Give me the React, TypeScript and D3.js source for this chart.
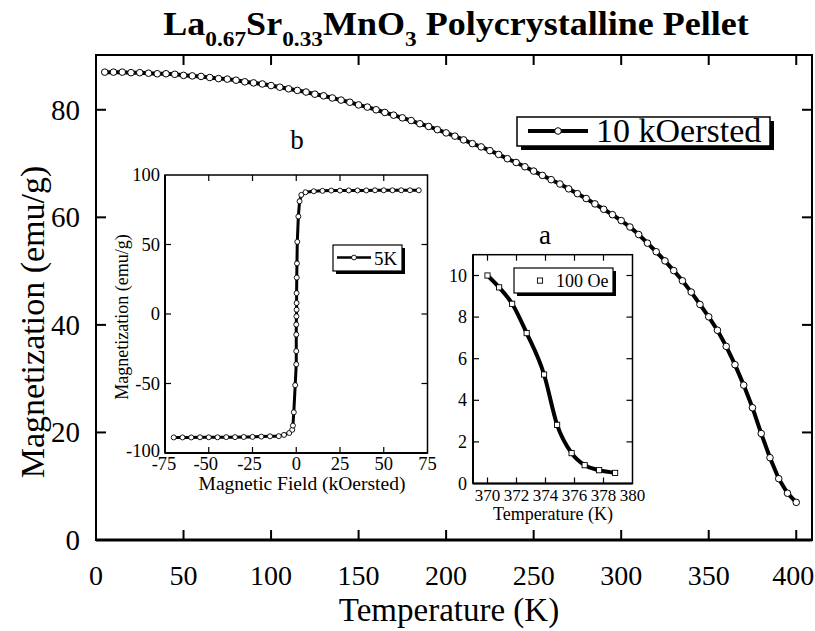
import React from 'react';
import * as d3 from 'd3';

// ---- Main curve: M(T) at 10 kOersted ----
const mainT = [5,10,15,20,25,30,35,40,45,50,55,60,65,70,75,80,85,90,95,100,105,110,115,120,125,130,135,140,145,150,155,160,165,170,175,180,185,190,195,200,205,210,215,220,225,230,235,240,245,250,255,260,265,270,275,280,285,290,295,300,305,310,315,320,325,330,335,340,345,350,355,360,365,370,375,380,385,390,395,400];
const mainM = [87.0,87.0,87.0,86.9,86.9,86.8,86.7,86.7,86.6,86.4,86.3,86.2,86.0,85.8,85.7,85.5,85.2,85.0,84.8,84.5,84.2,83.9,83.6,83.3,82.9,82.6,82.2,81.8,81.4,80.9,80.5,80.0,79.5,79.0,78.5,78.0,77.4,76.9,76.3,75.7,75.1,74.4,73.7,73.1,72.4,71.7,70.9,70.2,69.4,68.6,67.8,67.0,66.2,65.3,64.4,63.5,62.5,61.5,60.5,59.4,58.2,56.8,55.2,53.6,51.9,50.1,48.2,46.1,43.8,41.5,39.0,36.0,32.6,28.8,24.6,19.8,15.3,11.4,8.7,7.0];
const mainXTicks = [0,50,100,150,200,250,300,350,400];
const mainYTicks = [0,20,40,60,80];

// ---- Inset b: hysteresis at 5K ----
const hystH = [-70,-65,-60,-55,-50,-45,-40,-35,-30,-25,-20,-15,-10,-7,-4,-2.3,-1.9,-1.4,-0.6,0,0,0,0,0.1,0.2,0.2,0.2,0.3,0.4,0.6,1.2,1.9,2.9,5.3,10,15,20,25,30,35,40,45,50,55,60,65,70];
const hystM = [-88.8,-88.8,-88.8,-88.7,-88.7,-88.7,-88.6,-88.6,-88.5,-88.4,-88.2,-88.0,-87.9,-87.0,-85.6,-83.3,-80.3,-70.7,-51.2,-36.2,-26.7,-14.8,-7.6,-1.7,3.1,7.9,15.0,26.2,36.4,51.9,70.2,81.1,85.7,87.6,88.3,88.6,88.8,88.8,88.9,88.9,88.9,89.0,89.0,89.0,89.0,89.0,89.0];
const hystXTicks = [-75,-50,-25,0,25,50,75];
const hystYTicks = [-100,-50,0,50,100];

// ---- Inset a: M(T) at 100 Oe near Tc ----
const tcT = [370,370.8,371.7,372.7,373.9,374.8,375.8,376.7,377.7,378.8];
const tcM = [10.0,9.43,8.64,7.23,5.24,2.82,1.46,0.88,0.64,0.51];
const tcXTicks = [370,372,374,376,378,380];
const tcYTicks = [0,2,4,6,8,10];

const FONT = "'Liberation Serif', 'DejaVu Serif', serif";

export default function App() {
  const x = d3.scaleLinear().domain([0, 409]).range([96, 812]);
  const y = d3.scaleLinear().domain([0, 90]).range([540, 56]);
  const mainData = mainT.map((t, i) => [t, mainM[i]] as [number, number]);
  const mainLine = d3.line<[number, number]>().x(d => x(d[0])).y(d => y(d[1]));

  const bx = d3.scaleLinear().domain([-75, 75]).range([165, 427.5]);
  const by = d3.scaleLinear().domain([-100, 100]).range([453, 175]);
  const bData = hystH.map((h, i) => [h, hystM[i]] as [number, number]);
  const bLine = d3.line<[number, number]>().x(d => bx(d[0])).y(d => by(d[1]));

  const ax = d3.scaleLinear().domain([369, 380]).range([473, 632.5]);
  const ay = d3.scaleLinear().domain([0, 11]).range([483.5, 254.7]);
  const aData = tcT.map((t, i) => [t, tcM[i]] as [number, number]);
  const aLine = d3.line<[number, number]>().x(d => ax(d[0])).y(d => ay(d[1])).curve(d3.curveMonotoneX);

  return (
    <svg width={815} height={631} style={{ display: 'block', position: 'absolute', left: 0, top: 0, background: '#fff' }} fontFamily={FONT}>
      <rect x={0} y={0} width={815} height={631} fill="#fff" />
      {/* Title */}
      <text transform="translate(456,35) scale(1.06,1)" textAnchor="middle" fontSize={34} fontWeight="bold">
        <tspan>La</tspan>
        <tspan fontSize={22} dy={11}>0.67</tspan>
        <tspan dy={-11}>Sr</tspan>
        <tspan fontSize={22} dy={11}>0.33</tspan>
        <tspan dy={-11}>MnO</tspan>
        <tspan fontSize={22} dy={11}>3</tspan>
        <tspan dy={-11}> Polycrystalline Pellet</tspan>
      </text>

      {/* Main frame */}
      <rect x={96} y={55} width={716} height={485} fill="none" stroke="#000" strokeWidth={2} />
      <line x1={96} x2={812} y1={540} y2={540} stroke="#000" strokeWidth={3} />
      {mainXTicks.filter(t => t > 0).map(t => (
        <g key={'mx' + t}>
          <line x1={x(t)} x2={x(t)} y1={540} y2={530} stroke="#000" strokeWidth={2} />
          <line x1={x(t)} x2={x(t)} y1={55} y2={65} stroke="#000" strokeWidth={2} />
        </g>
      ))}
      {mainXTicks.map(t => (
        <text key={'mxl' + t} x={x(t) - (t === 400 ? 3 : 0)} y={585} textAnchor="middle" fontSize={28}>{t}</text>
      ))}
      {mainYTicks.filter(t => t > 0).map(t => (
        <g key={'my' + t}>
          <line x1={96} x2={106} y1={y(t)} y2={y(t)} stroke="#000" strokeWidth={2} />
          <line x1={812} x2={802} y1={y(t)} y2={y(t)} stroke="#000" strokeWidth={2} />
        </g>
      ))}
      {mainYTicks.map(t => (
        <text key={'myl' + t} x={80} y={y(t) + 10} textAnchor="end" fontSize={29}>{t}</text>
      ))}
      <text x={449} y={621} textAnchor="middle" fontSize={33}>Temperature (K)</text>
      <text transform="translate(44,322) rotate(-90)" textAnchor="middle" fontSize={34}>Magnetization (emu/g)</text>

      {/* Main curve */}
      <path d={mainLine(mainData) || ''} fill="none" stroke="#000" strokeWidth={4} />
      {mainData.map((d, i) => (
        <circle key={'mc' + i} cx={x(d[0])} cy={y(d[1])} r={3.3} fill="#fff" stroke="#000" strokeWidth={1} />
      ))}

      {/* Main legend */}
      <rect x={521} y={121} width={253} height={29} fill="#000" />
      <rect x={517} y={117} width={253} height={29} fill="#fff" stroke="#000" strokeWidth={1.5} />
      <line x1={528} x2={588} y1={131} y2={131} stroke="#000" strokeWidth={4} />
      <circle cx={558} cy={131} r={3.3} fill="#fff" stroke="#000" strokeWidth={1} />
      <text x={596} y={142} fontSize={34}>10 kOersted</text>

      {/* Labels a, b */}
      <text x={297} y={149} textAnchor="middle" fontSize={27}>b</text>
      <text x={545} y={244} textAnchor="middle" fontSize={27}>a</text>

      {/* Inset b */}
      <rect x={165} y={175} width={262.5} height={278} fill="#fff" stroke="#000" strokeWidth={1.5} />
      <line x1={165} x2={165} y1={175} y2={453} stroke="#000" strokeWidth={2} />
      <line x1={165} x2={427.5} y1={453} y2={453} stroke="#000" strokeWidth={2} />
      {hystXTicks.filter(t => t > -75 && t < 75).map(t => (
        <g key={'bx' + t}>
          <line x1={bx(t)} x2={bx(t)} y1={453} y2={447} stroke="#000" strokeWidth={1.2} />
          <line x1={bx(t)} x2={bx(t)} y1={175} y2={181} stroke="#000" strokeWidth={1.2} />
        </g>
      ))}
      {hystYTicks.filter(t => t > -100 && t < 100).map(t => (
        <g key={'by' + t}>
          <line x1={165} x2={171} y1={by(t)} y2={by(t)} stroke="#000" strokeWidth={1.2} />
          <line x1={427.5} x2={421.5} y1={by(t)} y2={by(t)} stroke="#000" strokeWidth={1.2} />
        </g>
      ))}
      {hystXTicks.map(t => (
        <text key={'bxl' + t} x={bx(t) - (t < 0 ? 3 : 0) + (t === -75 ? 2 : 0)} y={470} textAnchor="middle" fontSize={18.5}>{t}</text>
      ))}
      {hystYTicks.map(t => (
        <text key={'byl' + t} x={160} y={by(t) + 6 - (t === -100 ? 2 : 0)} textAnchor="end" fontSize={18.5}>{t}</text>
      ))}
      <text x={302} y={490} textAnchor="middle" fontSize={19.5}>Magnetic Field (kOersted)</text>
      <text transform="translate(128,317) rotate(-90)" textAnchor="middle" fontSize={18}>Magnetization (emu/g)</text>
      <path d={bLine(bData) || ''} fill="none" stroke="#000" strokeWidth={3} />
      {bData.map((d, i) => (
        <circle key={'bc' + i} cx={bx(d[0])} cy={by(d[1])} r={2.5} fill="#fff" stroke="#000" strokeWidth={0.9} />
      ))}
      {/* legend b */}
      <rect x={336} y={248} width={69} height={26} fill="#000" />
      <rect x={333} y={245} width={69} height={26} fill="#fff" stroke="#000" strokeWidth={1.2} />
      <line x1={337} x2={371} y1={257.5} y2={257.5} stroke="#000" strokeWidth={2.5} />
      <circle cx={354} cy={257.5} r={2.4} fill="#fff" stroke="#000" strokeWidth={0.9} />
      <text x={374} y={265} fontSize={19}>5K</text>

      {/* Inset a */}
      <rect x={473} y={254.7} width={159.5} height={228.8} fill="#fff" stroke="#000" strokeWidth={1.5} />
      <line x1={473} x2={473} y1={254.7} y2={483.5} stroke="#000" strokeWidth={2} />
      <line x1={473} x2={632.5} y1={483.5} y2={483.5} stroke="#000" strokeWidth={2} />
      {tcXTicks.filter(t => t < 380).map(t => (
        <g key={'ax' + t}>
          <line x1={ax(t)} x2={ax(t)} y1={483.5} y2={477.5} stroke="#000" strokeWidth={1.2} />
          <line x1={ax(t)} x2={ax(t)} y1={254.7} y2={260.7} stroke="#000" strokeWidth={1.2} />
        </g>
      ))}
      {tcYTicks.filter(t => t > 0).map(t => (
        <g key={'ay' + t}>
          <line x1={473} x2={479} y1={ay(t)} y2={ay(t)} stroke="#000" strokeWidth={1.2} />
          <line x1={632.5} x2={626.5} y1={ay(t)} y2={ay(t)} stroke="#000" strokeWidth={1.2} />
        </g>
      ))}
      {tcXTicks.map(t => (
        <text key={'axl' + t} x={ax(t)} y={501} textAnchor="middle" fontSize={17}>{t}</text>
      ))}
      {tcYTicks.map(t => (
        <text key={'ayl' + t} x={467} y={ay(t) + 6} textAnchor="end" fontSize={18}>{t}</text>
      ))}
      <text x={553} y={520} textAnchor="middle" fontSize={18}>Temperature (K)</text>
      <path d={aLine(aData) || ''} fill="none" stroke="#000" strokeWidth={4} />
      {aData.map((d, i) => (
        <rect key={'as' + i} x={ax(d[0]) - 2.6} y={ay(d[1]) - 2.6} width={5.2} height={5.2} fill="#fff" stroke="#000" strokeWidth={0.9} />
      ))}
      {/* legend a */}
      <rect x={517} y={271} width={99} height={25} fill="#000" />
      <rect x={514} y={268} width={99} height={25} fill="#fff" stroke="#000" strokeWidth={1.2} />
      <rect x={537.4} y={278} width={5.2} height={5.2} fill="#fff" stroke="#000" strokeWidth={0.9} />
      <text x={556} y={287} fontSize={18}>100 Oe</text>
    </svg>
  );
}
